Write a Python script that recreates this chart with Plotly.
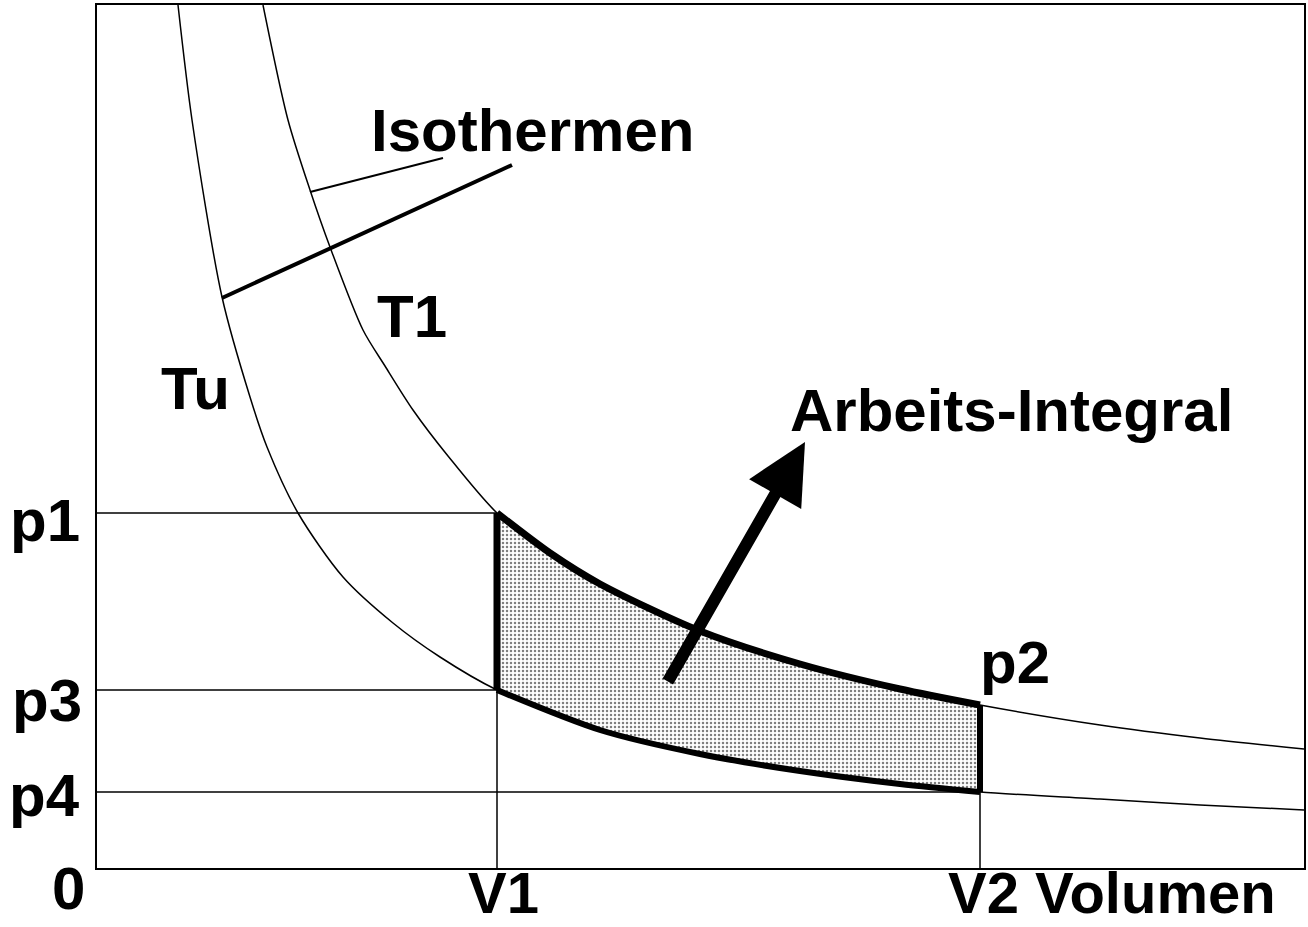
import plotly.graph_objects as go

# isotherme Tu (untere Kurve)
tu_v = [0.81, 0.95, 1.25, 1.53, 1.70, 2.01, 2.46, 2.96, 3.43, 4.00,
        5.03, 6.03, 7.03, 8.03, 8.83, 10.03, 11.03, 12.07]
tu_p = [8.63, 7.48, 5.71, 4.71, 4.21, 3.55, 2.91, 2.45, 2.11, 1.78,
        1.38, 1.14, 0.97, 0.84, 0.76, 0.69, 0.63, 0.58]

# isotherme T1 (obere Kurve)
t1_v = [1.66, 1.91, 2.13, 2.33, 2.66, 2.88, 3.16, 3.51, 4.00,
        4.53, 5.03, 6.03, 7.03, 8.03, 8.83, 10.03, 11.03, 12.07]
t1_p = [8.63, 7.48, 6.78, 6.21, 5.38, 5.02, 4.58, 4.12, 3.55,
        3.15, 2.84, 2.37, 2.04, 1.79, 1.63, 1.43, 1.30, 1.19]

# Zustandspunkte
V1, V2 = 4.00, 8.83
p1, p2, p3, p4 = 3.55, 1.63, 1.78, 0.76

# Hinweislinien "Isothermen"
leader_thin_v = [2.13, 3.46]
leader_thin_p = [6.76, 7.10]
leader_thick_v = [1.25, 4.15]
leader_thick_p = [5.70, 7.03]

fig = go.Figure()

# Arbeitsflaeche zwischen V1 und V2
top_v = [v for v in t1_v if V1 <= v <= V2]
top_p = [p for v, p in zip(t1_v, t1_p) if V1 <= v <= V2]
bot_v = [v for v in tu_v if V1 <= v <= V2]
bot_p = [p for v, p in zip(tu_v, tu_p) if V1 <= v <= V2]
area_v = top_v + bot_v[::-1] + [top_v[0]]
area_p = top_p + bot_p[::-1] + [top_p[0]]

fig.add_trace(go.Scatter(x=area_v, y=area_p, mode='lines', fill='toself',
                         line=dict(color='rgba(0,0,0,0)', width=0),
                         fillcolor='white',
                         fillpattern=dict(shape='.', size=4, solidity=0.3,
                                          fgcolor='black', bgcolor='white')))

# Hilfslinien
guides = [([0, V1], [p1, p1]), ([0, V1], [p3, p3]), ([0, V2], [p4, p4]),
          ([V1, V1], [0, p1]), ([V2, V2], [0, p2])]
for gv, gp in guides:
    fig.add_trace(go.Scatter(x=gv, y=gp, mode='lines',
                             line=dict(color='black', width=1.5)))

fig.add_trace(go.Scatter(x=tu_v, y=tu_p, mode='lines', line_shape='spline',
                         line=dict(color='black', width=1.5, smoothing=0.8)))
fig.add_trace(go.Scatter(x=t1_v, y=t1_p, mode='lines', line_shape='spline',
                         line=dict(color='black', width=1.5, smoothing=0.8)))

# dicke Umrandung der Flaeche
fig.add_trace(go.Scatter(x=top_v, y=top_p, mode='lines', line_shape='spline',
                         line=dict(color='black', width=7, smoothing=0.8)))
fig.add_trace(go.Scatter(x=bot_v, y=bot_p, mode='lines', line_shape='spline',
                         line=dict(color='black', width=6, smoothing=0.8)))
fig.add_trace(go.Scatter(x=[V1, V1], y=[p3, p1], mode='lines',
                         line=dict(color='black', width=7)))
fig.add_trace(go.Scatter(x=[V2, V2], y=[p4, p2], mode='lines',
                         line=dict(color='black', width=6)))

fig.add_trace(go.Scatter(x=leader_thin_v, y=leader_thin_p, mode='lines',
                         line=dict(color='black', width=2)))
fig.add_trace(go.Scatter(x=leader_thick_v, y=leader_thick_p, mode='lines',
                         line=dict(color='black', width=4)))

font = dict(family='Liberation Sans', size=60, color='black', weight='bold')

# Pfeil Arbeits-Integral
fig.add_annotation(x=7.08, y=4.26, ax=5.70, ay=1.85, xref='x', yref='y',
                   axref='x', ayref='y', text='', showarrow=True,
                   arrowhead=2, arrowsize=1, arrowwidth=12, arrowcolor='black')

# Beschriftungen im Diagramm
inner = [('Isothermen', 4.35, 7.38), ('T1', 3.15, 5.52), ('Tu', 0.98, 4.80),
         ('Arbeits-Integral', 9.14, 4.58), ('p2', 9.18, 2.06)]
for txt, x, y in inner:
    fig.add_annotation(x=x, y=y, xref='x', yref='y', text=txt,
                       showarrow=False, font=font)

# Achsenbeschriftungen
def px(x): return (x - 97) / 1207
def py(y): return (868 - y) / 863

outer = [('0', 68, 888, 'center'), ('p1', 82, 520, 'right'), ('p3', 84, 700, 'right'),
         ('p4', 82, 795, 'right')]
for txt, x, y, al in outer:
    fig.add_annotation(x=px(x), y=py(y), xref='paper', yref='paper', text=txt,
                       showarrow=False, font=font, xanchor=al, yanchor='middle')

# V-Beschriftungen am unteren Rand
for txt, x in [('V1', 503), ('V2 Volumen', 1112)]:
    fig.add_annotation(x=px(x), y=py(926), xref='paper', yref='paper', text=txt,
                       showarrow=False, font=dict(font, size=58), xanchor='center',
                       yanchor='bottom', borderpad=0)

fig.update_layout(
    width=1308, height=927, showlegend=False,
    margin=dict(l=97, r=4, t=5, b=59, autoexpand=False),
    plot_bgcolor='white', paper_bgcolor='white',
    xaxis=dict(range=[0, 12.07], showgrid=False, zeroline=False, showticklabels=False,
               ticks='', showline=True, mirror=True, linecolor='black', linewidth=2),
    yaxis=dict(range=[0, 8.63], showgrid=False, zeroline=False, showticklabels=False,
               ticks='', showline=True, mirror=True, linecolor='black', linewidth=2),
)

fig.write_html("out.html", config={'displayModeBar': False},
               post_script="document.body.style.margin='0';")
